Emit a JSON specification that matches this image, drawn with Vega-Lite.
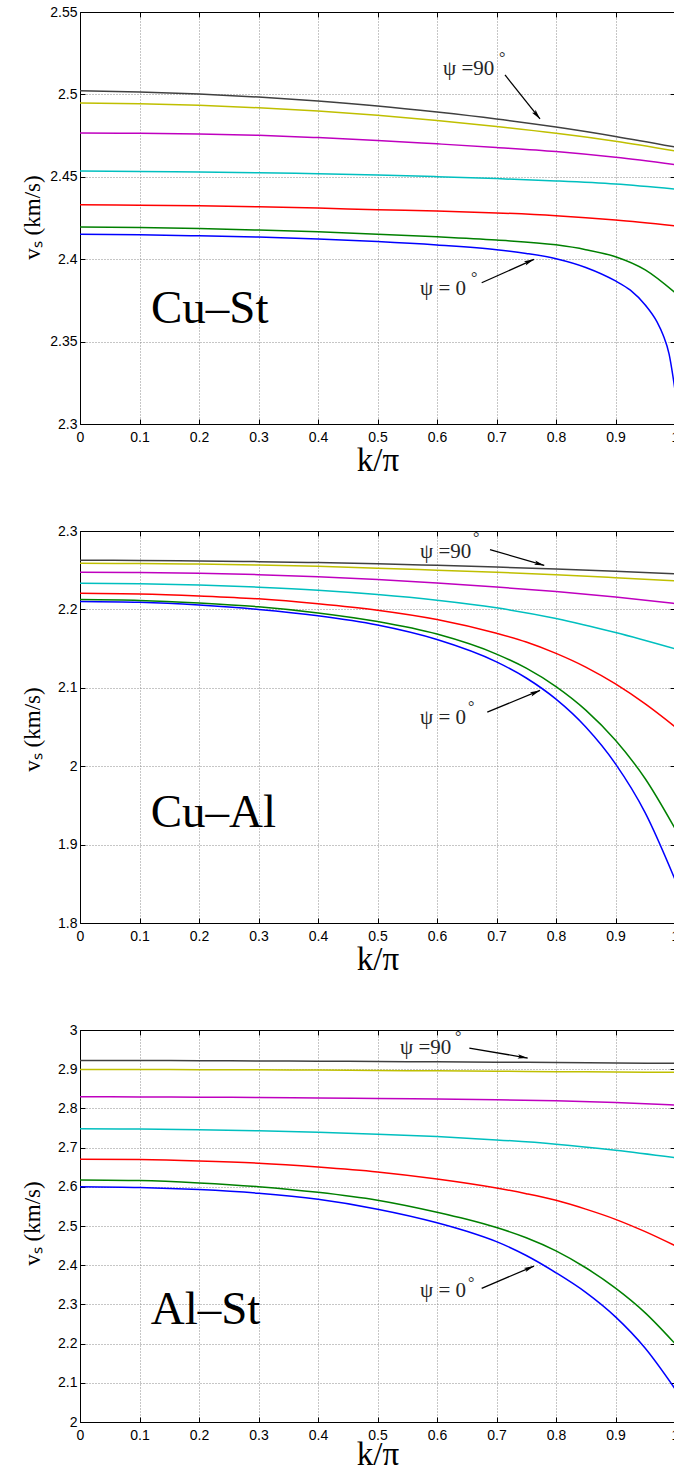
{
"$schema": "https://vega.github.io/schema/vega-lite/v6.json",
"background": "white",
"padding": {"left": 21, "top": 5, "right": -5, "bottom": -4},
"spacing": 107,
"bounds": "flush",
"config": {
  "view": {"stroke": null},
  "axis": {"domainColor": "#000", "domainWidth": 1, "tickColor": "#000", "tickWidth": 1, "tickSize": -5,
    "labelFont": "Liberation Sans", "labelFontSize": 14, "labelColor": "#000", "labelFlush": false, "labelOverlap": false,
    "gridColor": "#8c8c8c", "gridDash": [1, 2], "gridWidth": 1, "gridOpacity": 1,
    "titleFont": "Liberation Serif", "titleFontWeight": "normal", "titleColor": "#000"}
},
"datasets": {
  "c1": [
    {"p":"0","k":0,"v":2.4151},{"p":"0","k":0.1,"v":2.4148},{"p":"0","k":0.2,"v":2.4142},{"p":"0","k":0.3,"v":2.4134},{"p":"0","k":0.4,"v":2.4123},{"p":"0","k":0.5,"v":2.4107},{"p":"0","k":0.6,"v":2.4086},{"p":"0","k":0.7,"v":2.4058},{"p":"0","k":0.75,"v":2.4035},{"p":"0","k":0.8,"v":2.4003},{"p":"0","k":0.85,"v":2.3950},{"p":"0","k":0.9,"v":2.3868},{"p":"0","k":0.925,"v":2.3812},{"p":"0","k":0.95,"v":2.3722},{"p":"0","k":0.97,"v":2.3618},{"p":"0","k":0.98,"v":2.3540},{"p":"0","k":0.99,"v":2.3425},{"p":"0","k":1,"v":2.3206},
    {"p":"15","k":0,"v":2.4195},{"p":"15","k":0.1,"v":2.4192},{"p":"15","k":0.2,"v":2.4186},{"p":"15","k":0.3,"v":2.4177},{"p":"15","k":0.4,"v":2.4166},{"p":"15","k":0.5,"v":2.4152},{"p":"15","k":0.6,"v":2.4136},{"p":"15","k":0.7,"v":2.4116},{"p":"15","k":0.8,"v":2.4087},{"p":"15","k":0.85,"v":2.4058},{"p":"15","k":0.9,"v":2.4015},{"p":"15","k":0.95,"v":2.3935},{"p":"15","k":1,"v":2.3797},
    {"p":"30","k":0,"v":2.4331},{"p":"30","k":0.1,"v":2.4328},{"p":"30","k":0.2,"v":2.4324},{"p":"30","k":0.3,"v":2.4318},{"p":"30","k":0.4,"v":2.4310},{"p":"30","k":0.5,"v":2.4300},{"p":"30","k":0.6,"v":2.4292},{"p":"30","k":0.7,"v":2.4281},{"p":"30","k":0.8,"v":2.4264},{"p":"30","k":0.9,"v":2.4238},{"p":"30","k":1,"v":2.4203},
    {"p":"45","k":0,"v":2.4535},{"p":"45","k":0.1,"v":2.4532},{"p":"45","k":0.2,"v":2.4529},{"p":"45","k":0.3,"v":2.4525},{"p":"45","k":0.4,"v":2.4518},{"p":"45","k":0.5,"v":2.4511},{"p":"45","k":0.6,"v":2.4501},{"p":"45","k":0.7,"v":2.4489},{"p":"45","k":0.8,"v":2.4475},{"p":"45","k":0.9,"v":2.4456},{"p":"45","k":1,"v":2.4426},
    {"p":"60","k":0,"v":2.4766},{"p":"60","k":0.1,"v":2.4764},{"p":"60","k":0.2,"v":2.4760},{"p":"60","k":0.3,"v":2.4752},{"p":"60","k":0.4,"v":2.4738},{"p":"60","k":0.5,"v":2.4721},{"p":"60","k":0.6,"v":2.4700},{"p":"60","k":0.7,"v":2.4678},{"p":"60","k":0.8,"v":2.4653},{"p":"60","k":0.9,"v":2.4618},{"p":"60","k":1,"v":2.4574},
    {"p":"75","k":0,"v":2.4948},{"p":"75","k":0.1,"v":2.4944},{"p":"75","k":0.2,"v":2.4934},{"p":"75","k":0.3,"v":2.4919},{"p":"75","k":0.4,"v":2.4899},{"p":"75","k":0.5,"v":2.4873},{"p":"75","k":0.6,"v":2.4841},{"p":"75","k":0.7,"v":2.4805},{"p":"75","k":0.8,"v":2.4764},{"p":"75","k":0.9,"v":2.4716},{"p":"75","k":1,"v":2.4657},
    {"p":"90","k":0,"v":2.5022},{"p":"90","k":0.1,"v":2.5015},{"p":"90","k":0.2,"v":2.5002},{"p":"90","k":0.3,"v":2.4984},{"p":"90","k":0.4,"v":2.4960},{"p":"90","k":0.5,"v":2.4930},{"p":"90","k":0.6,"v":2.4893},{"p":"90","k":0.7,"v":2.4851},{"p":"90","k":0.8,"v":2.4802},{"p":"90","k":0.9,"v":2.4745},{"p":"90","k":1,"v":2.4681}
  ],
  "c2": [
    {"p":"0","k":0,"v":2.2101},{"p":"0","k":0.1,"v":2.2090},{"p":"0","k":0.2,"v":2.2055},{"p":"0","k":0.3,"v":2.1999},{"p":"0","k":0.4,"v":2.1918},{"p":"0","k":0.5,"v":2.1800},{"p":"0","k":0.6,"v":2.1615},{"p":"0","k":0.7,"v":2.1330},{"p":"0","k":0.75,"v":2.1125},{"p":"0","k":0.8,"v":2.0855},{"p":"0","k":0.85,"v":2.0500},{"p":"0","k":0.9,"v":2.0030},{"p":"0","k":0.95,"v":1.9405},{"p":"0","k":1,"v":1.8555},
    {"p":"15","k":0,"v":2.2126},{"p":"15","k":0.1,"v":2.2115},{"p":"15","k":0.2,"v":2.2082},{"p":"15","k":0.3,"v":2.2033},{"p":"15","k":0.4,"v":2.1955},{"p":"15","k":0.5,"v":2.1845},{"p":"15","k":0.6,"v":2.1685},{"p":"15","k":0.7,"v":2.1430},{"p":"15","k":0.75,"v":2.1250},{"p":"15","k":0.8,"v":2.1015},{"p":"15","k":0.85,"v":2.0715},{"p":"15","k":0.9,"v":2.0330},{"p":"15","k":0.95,"v":1.9840},{"p":"15","k":1,"v":1.9205},
    {"p":"30","k":0,"v":2.2207},{"p":"30","k":0.1,"v":2.2198},{"p":"30","k":0.2,"v":2.2172},{"p":"30","k":0.3,"v":2.2135},{"p":"30","k":0.4,"v":2.2072},{"p":"30","k":0.5,"v":2.1990},{"p":"30","k":0.6,"v":2.1871},{"p":"30","k":0.7,"v":2.1695},{"p":"30","k":0.75,"v":2.1584},{"p":"30","k":0.8,"v":2.1439},{"p":"30","k":0.85,"v":2.1264},{"p":"30","k":0.9,"v":2.1049},{"p":"30","k":0.95,"v":2.0794},{"p":"30","k":1,"v":2.0503},
    {"p":"45","k":0,"v":2.2334},{"p":"45","k":0.1,"v":2.2327},{"p":"45","k":0.2,"v":2.2310},{"p":"45","k":0.3,"v":2.2283},{"p":"45","k":0.4,"v":2.2245},{"p":"45","k":0.5,"v":2.2190},{"p":"45","k":0.6,"v":2.2117},{"p":"45","k":0.7,"v":2.2020},{"p":"45","k":0.8,"v":2.1885},{"p":"45","k":0.9,"v":2.1705},{"p":"45","k":1,"v":2.1497},
    {"p":"60","k":0,"v":2.2475},{"p":"60","k":0.1,"v":2.2470},{"p":"60","k":0.2,"v":2.2460},{"p":"60","k":0.3,"v":2.2443},{"p":"60","k":0.4,"v":2.2416},{"p":"60","k":0.5,"v":2.2381},{"p":"60","k":0.6,"v":2.2336},{"p":"60","k":0.7,"v":2.2285},{"p":"60","k":0.8,"v":2.2228},{"p":"60","k":0.9,"v":2.2158},{"p":"60","k":1,"v":2.2075},
    {"p":"75","k":0,"v":2.2589},{"p":"75","k":0.1,"v":2.2585},{"p":"75","k":0.2,"v":2.2578},{"p":"75","k":0.3,"v":2.2567},{"p":"75","k":0.4,"v":2.2549},{"p":"75","k":0.5,"v":2.2526},{"p":"75","k":0.6,"v":2.2500},{"p":"75","k":0.7,"v":2.2473},{"p":"75","k":0.8,"v":2.2442},{"p":"75","k":0.9,"v":2.2405},{"p":"75","k":1,"v":2.2365},
    {"p":"90","k":0,"v":2.2628},{"p":"90","k":0.1,"v":2.2624},{"p":"90","k":0.2,"v":2.2618},{"p":"90","k":0.3,"v":2.2609},{"p":"90","k":0.4,"v":2.2597},{"p":"90","k":0.5,"v":2.2582},{"p":"90","k":0.6,"v":2.2562},{"p":"90","k":0.7,"v":2.2540},{"p":"90","k":0.8,"v":2.2515},{"p":"90","k":0.9,"v":2.2486},{"p":"90","k":1,"v":2.2454}
  ],
  "c3": [
    {"p":"0","k":0,"v":2.6004},{"p":"0","k":0.1,"v":2.5985},{"p":"0","k":0.2,"v":2.5930},{"p":"0","k":0.3,"v":2.5835},{"p":"0","k":0.4,"v":2.5680},{"p":"0","k":0.5,"v":2.5430},{"p":"0","k":0.6,"v":2.5084},{"p":"0","k":0.65,"v":2.4865},{"p":"0","k":0.7,"v":2.4600},{"p":"0","k":0.75,"v":2.4247},{"p":"0","k":0.8,"v":2.3807},{"p":"0","k":0.85,"v":2.3307},{"p":"0","k":0.9,"v":2.2682},{"p":"0","k":0.95,"v":2.1882},{"p":"0","k":1,"v":2.0847},
    {"p":"15","k":0,"v":2.6175},{"p":"15","k":0.1,"v":2.6160},{"p":"15","k":0.2,"v":2.6100},{"p":"15","k":0.3,"v":2.6004},{"p":"15","k":0.4,"v":2.5860},{"p":"15","k":0.5,"v":2.5657},{"p":"15","k":0.6,"v":2.5350},{"p":"15","k":0.65,"v":2.5170},{"p":"15","k":0.7,"v":2.4960},{"p":"15","k":0.75,"v":2.4700},{"p":"15","k":0.8,"v":2.4365},{"p":"15","k":0.85,"v":2.3935},{"p":"15","k":0.9,"v":2.3415},{"p":"15","k":0.95,"v":2.2785},{"p":"15","k":1,"v":2.2000},
    {"p":"30","k":0,"v":2.6704},{"p":"30","k":0.1,"v":2.6695},{"p":"30","k":0.2,"v":2.6660},{"p":"30","k":0.3,"v":2.6602},{"p":"30","k":0.4,"v":2.6505},{"p":"30","k":0.5,"v":2.6380},{"p":"30","k":0.6,"v":2.6200},{"p":"30","k":0.7,"v":2.5970},{"p":"30","k":0.75,"v":2.5825},{"p":"30","k":0.8,"v":2.5655},{"p":"30","k":0.85,"v":2.5430},{"p":"30","k":0.9,"v":2.5170},{"p":"30","k":0.95,"v":2.4855},{"p":"30","k":1,"v":2.4498},
    {"p":"45","k":0,"v":2.7478},{"p":"45","k":0.1,"v":2.7472},{"p":"45","k":0.2,"v":2.7455},{"p":"45","k":0.3,"v":2.7427},{"p":"45","k":0.4,"v":2.7390},{"p":"45","k":0.5,"v":2.7343},{"p":"45","k":0.6,"v":2.7280},{"p":"45","k":0.7,"v":2.7197},{"p":"45","k":0.8,"v":2.7087},{"p":"45","k":0.9,"v":2.6934},{"p":"45","k":1,"v":2.6745},
    {"p":"60","k":0,"v":2.8296},{"p":"60","k":0.1,"v":2.8293},{"p":"60","k":0.2,"v":2.8287},{"p":"60","k":0.3,"v":2.8279},{"p":"60","k":0.4,"v":2.8268},{"p":"60","k":0.5,"v":2.8254},{"p":"60","k":0.6,"v":2.8237},{"p":"60","k":0.7,"v":2.8218},{"p":"60","k":0.8,"v":2.8192},{"p":"60","k":0.9,"v":2.8148},{"p":"60","k":1,"v":2.8084},
    {"p":"75","k":0,"v":2.8993},{"p":"75","k":0.1,"v":2.8992},{"p":"75","k":0.2,"v":2.8989},{"p":"75","k":0.3,"v":2.8984},{"p":"75","k":0.4,"v":2.8977},{"p":"75","k":0.5,"v":2.8968},{"p":"75","k":0.6,"v":2.8958},{"p":"75","k":0.7,"v":2.8948},{"p":"75","k":0.8,"v":2.8938},{"p":"75","k":0.9,"v":2.8929},{"p":"75","k":1,"v":2.8919},
    {"p":"90","k":0,"v":2.9223},{"p":"90","k":0.1,"v":2.9221},{"p":"90","k":0.2,"v":2.9217},{"p":"90","k":0.3,"v":2.9211},{"p":"90","k":0.4,"v":2.9204},{"p":"90","k":0.5,"v":2.9196},{"p":"90","k":0.6,"v":2.9188},{"p":"90","k":0.7,"v":2.9180},{"p":"90","k":0.8,"v":2.9171},{"p":"90","k":0.9,"v":2.9161},{"p":"90","k":1,"v":2.9149}
  ],
  "notes": [
    {"panel":1,"kind":"psi","x":0.6101,"y":2.5118,"t":"ψ =90"},
    {"panel":1,"kind":"psi","x":0.5714,"y":2.3783,"t":"ψ = 0"},
    {"panel":1,"kind":"deg","x":0.7042,"y":2.5188,"t":"°"},
    {"panel":1,"kind":"deg","x":0.6571,"y":2.3856,"t":"°"},
    {"panel":1,"kind":"label","x":0.1193,"y":2.3615,"t":"Cu–St"},
    {"panel":2,"kind":"psi","x":0.5714,"y":2.2658,"t":"ψ =90"},
    {"panel":2,"kind":"psi","x":0.5714,"y":2.0532,"t":"ψ = 0"},
    {"panel":2,"kind":"deg","x":0.6605,"y":2.2841,"t":"°"},
    {"panel":2,"kind":"deg","x":0.6521,"y":2.0691,"t":"°"},
    {"panel":2,"kind":"label","x":0.1188,"y":1.9227,"t":"Cu–Al"},
    {"panel":3,"kind":"psi","x":0.5378,"y":2.9387,"t":"ψ =90"},
    {"panel":3,"kind":"psi","x":0.5714,"y":2.3186,"t":"ψ = 0"},
    {"panel":3,"kind":"deg","x":0.6303,"y":2.9701,"t":"°"},
    {"panel":3,"kind":"deg","x":0.6521,"y":2.3429,"t":"°"},
    {"panel":3,"kind":"label","x":0.1188,"y":2.2504,"t":"Al–St"}
  ],
  "arrows": [
    {"panel":1,"psi":"90","x":0.7143,"y":2.5118,"x2":0.7731,"y2":2.4851,"hx":0.7679,"hy":2.4874},
    {"panel":1,"psi":"0","x":0.6751,"y":2.3857,"x2":0.7630,"y2":2.3999,"hx":0.7553,"hy":2.3987},
    {"panel":2,"psi":"90","x":0.6891,"y":2.2764,"x2":0.7803,"y2":2.2560,"hx":0.7723,"hy":2.2578},
    {"panel":2,"psi":"0","x":0.6845,"y":2.0689,"x2":0.7731,"y2":2.0966,"hx":0.7654,"hy":2.0941},
    {"panel":3,"psi":"90","x":0.6543,"y":2.9540,"x2":0.7524,"y2":2.9285,"hx":0.7442,"hy":2.9305},
    {"panel":3,"psi":"0","x":0.6751,"y":2.3408,"x2":0.7630,"y2":2.3978,"hx":0.7553,"hy":2.3927}
  ]
},
"vconcat": [
  {
    "width": 595, "height": 412,
    "resolve": {"axis": {"x": "independent", "y": "independent"}},
    "layer": [
      {"data": {"name": "c1"},
       "mark": {"type": "line", "strokeWidth": 1.5, "interpolate": "monotone"},
       "encoding": {
         "x": {"field": "k", "type": "quantitative", "scale": {"domain": [0, 1], "nice": false, "zero": false},
               "axis": {"orient": "bottom", "values": [0,0.1,0.2,0.3,0.4,0.5,0.6,0.7,0.8,0.9,1], "format": "~g", "grid": true, "labelPadding": 11, "title": "k/π", "titleFontSize": 33, "titleBaseline": "alphabetic", "titleX": 297.5, "titleY": 46}},
         "y": {"field": "v", "type": "quantitative", "scale": {"domain": [2.3, 2.55], "nice": false, "zero": false},
               "axis": {"orient": "left", "values": [2.3,2.35,2.4,2.45,2.5,2.55], "format": "~g", "grid": true, "labelPadding": 8, "title": "vₛ   (km/s)", "titleFontSize": 23, "titleBaseline": "alphabetic", "titleAngle": 270, "titleX": -41, "titleY": 205}},
         "color": {"field": "p", "type": "nominal", "scale": {"domain": ["0","15","30","45","60","75","90"], "range": ["#0000FF","#008000","#FF0000","#00BFBF","#BF00BF","#BFBF00","#404040"]}, "legend": null}
       }},
      {"data": {"name": "arrows"},
       "transform": [{"filter": "datum.panel == 1"}],
       "mark": {"type": "rule", "color": "#000", "strokeWidth": 1.3},
       "encoding": {
         "x": {"field": "x", "type": "quantitative", "scale": {"domain": [0, 1], "nice": false, "zero": false}, "axis": null},
         "y": {"field": "y", "type": "quantitative", "scale": {"domain": [2.3, 2.55], "nice": false, "zero": false}, "axis": null},
         "x2": {"field": "x2"}, "y2": {"field": "y2"}
       }},
      {"data": {"name": "arrows"},
       "transform": [{"filter": "datum.panel == 1 && datum.psi == '90'"}],
       "mark": {"type": "point", "shape": "M0,-1L0.45,1L0,0.6L-0.45,1Z", "filled": true, "color": "#000", "size": 100, "angle": 141.5, "opacity": 1},
       "encoding": {
         "x": {"field": "hx", "type": "quantitative", "scale": {"domain": [0, 1], "nice": false, "zero": false}, "axis": null},
         "y": {"field": "hy", "type": "quantitative", "scale": {"domain": [2.3, 2.55], "nice": false, "zero": false}, "axis": null}
       }},
      {"data": {"name": "arrows"},
       "transform": [{"filter": "datum.panel == 1 && datum.psi == '0'"}],
       "mark": {"type": "point", "shape": "M0,-1L0.45,1L0,0.6L-0.45,1Z", "filled": true, "color": "#000", "size": 100, "angle": 65.9, "opacity": 1},
       "encoding": {
         "x": {"field": "hx", "type": "quantitative", "scale": {"domain": [0, 1], "nice": false, "zero": false}, "axis": null},
         "y": {"field": "hy", "type": "quantitative", "scale": {"domain": [2.3, 2.55], "nice": false, "zero": false}, "axis": null}
       }},
      {"data": {"name": "notes"},
       "transform": [{"filter": "datum.panel == 1 && datum.kind == 'psi'"}],
       "mark": {"type": "text", "font": "Liberation Serif", "fontSize": 21, "align": "left", "baseline": "alphabetic", "color": "#262626"},
       "encoding": {
         "x": {"field": "x", "type": "quantitative", "scale": {"domain": [0, 1], "nice": false, "zero": false}, "axis": null},
         "y": {"field": "y", "type": "quantitative", "scale": {"domain": [2.3, 2.55], "nice": false, "zero": false}, "axis": null},
         "text": {"field": "t"}
       }},
      {"data": {"name": "notes"},
       "transform": [{"filter": "datum.panel == 1 && datum.kind == 'deg'"}],
       "mark": {"type": "text", "font": "Liberation Serif", "fontSize": 16, "align": "left", "baseline": "alphabetic", "color": "#262626"},
       "encoding": {
         "x": {"field": "x", "type": "quantitative", "scale": {"domain": [0, 1], "nice": false, "zero": false}, "axis": null},
         "y": {"field": "y", "type": "quantitative", "scale": {"domain": [2.3, 2.55], "nice": false, "zero": false}, "axis": null},
         "text": {"field": "t"}
       }},
      {"data": {"name": "notes"},
       "transform": [{"filter": "datum.panel == 1 && datum.kind == 'label'"}],
       "mark": {"type": "text", "font": "Liberation Serif", "fontSize": 47, "align": "left", "baseline": "alphabetic", "color": "#000"},
       "encoding": {
         "x": {"field": "x", "type": "quantitative", "scale": {"domain": [0, 1], "nice": false, "zero": false},
               "axis": {"orient": "top", "values": [0,0.1,0.2,0.3,0.4,0.5,0.6,0.7,0.8,0.9,1], "grid": false, "labels": false, "title": null}},
         "y": {"field": "y", "type": "quantitative", "scale": {"domain": [2.3, 2.55], "nice": false, "zero": false},
               "axis": {"orient": "right", "values": [2.3,2.35,2.4,2.45,2.5,2.55], "grid": false, "labels": false, "title": null}},
         "text": {"field": "t"}
       }}
    ]
  },
  {
    "width": 595, "height": 392,
    "resolve": {"axis": {"x": "independent", "y": "independent"}},
    "layer": [
      {"data": {"name": "c2"},
       "mark": {"type": "line", "strokeWidth": 1.5, "interpolate": "monotone"},
       "encoding": {
         "x": {"field": "k", "type": "quantitative", "scale": {"domain": [0, 1], "nice": false, "zero": false},
               "axis": {"orient": "bottom", "values": [0,0.1,0.2,0.3,0.4,0.5,0.6,0.7,0.8,0.9,1], "format": "~g", "grid": true, "labelPadding": 11, "title": "k/π", "titleFontSize": 33, "titleBaseline": "alphabetic", "titleX": 297.5, "titleY": 46}},
         "y": {"field": "v", "type": "quantitative", "scale": {"domain": [1.8, 2.3], "nice": false, "zero": false},
               "axis": {"orient": "left", "values": [1.8,1.9,2,2.1,2.2,2.3], "format": "~g", "grid": true, "labelPadding": 8, "title": "vₛ   (km/s)", "titleFontSize": 23, "titleBaseline": "alphabetic", "titleAngle": 270, "titleX": -41, "titleY": 198}},
         "color": {"field": "p", "type": "nominal", "scale": {"domain": ["0","15","30","45","60","75","90"], "range": ["#0000FF","#008000","#FF0000","#00BFBF","#BF00BF","#BFBF00","#404040"]}, "legend": null}
       }},
      {"data": {"name": "arrows"},
       "transform": [{"filter": "datum.panel == 2"}],
       "mark": {"type": "rule", "color": "#000", "strokeWidth": 1.3},
       "encoding": {
         "x": {"field": "x", "type": "quantitative", "scale": {"domain": [0, 1], "nice": false, "zero": false}, "axis": null},
         "y": {"field": "y", "type": "quantitative", "scale": {"domain": [1.8, 2.3], "nice": false, "zero": false}, "axis": null},
         "x2": {"field": "x2"}, "y2": {"field": "y2"}
       }},
      {"data": {"name": "arrows"},
       "transform": [{"filter": "datum.panel == 2 && datum.psi == '90'"}],
       "mark": {"type": "point", "shape": "M0,-1L0.45,1L0,0.6L-0.45,1Z", "filled": true, "color": "#000", "size": 100, "angle": 106.4, "opacity": 1},
       "encoding": {
         "x": {"field": "hx", "type": "quantitative", "scale": {"domain": [0, 1], "nice": false, "zero": false}, "axis": null},
         "y": {"field": "hy", "type": "quantitative", "scale": {"domain": [1.8, 2.3], "nice": false, "zero": false}, "axis": null}
       }},
      {"data": {"name": "arrows"},
       "transform": [{"filter": "datum.panel == 2 && datum.psi == '0'"}],
       "mark": {"type": "point", "shape": "M0,-1L0.45,1L0,0.6L-0.45,1Z", "filled": true, "color": "#000", "size": 100, "angle": 67.6, "opacity": 1},
       "encoding": {
         "x": {"field": "hx", "type": "quantitative", "scale": {"domain": [0, 1], "nice": false, "zero": false}, "axis": null},
         "y": {"field": "hy", "type": "quantitative", "scale": {"domain": [1.8, 2.3], "nice": false, "zero": false}, "axis": null}
       }},
      {"data": {"name": "notes"},
       "transform": [{"filter": "datum.panel == 2 && datum.kind == 'psi'"}],
       "mark": {"type": "text", "font": "Liberation Serif", "fontSize": 21, "align": "left", "baseline": "alphabetic", "color": "#262626"},
       "encoding": {
         "x": {"field": "x", "type": "quantitative", "scale": {"domain": [0, 1], "nice": false, "zero": false}, "axis": null},
         "y": {"field": "y", "type": "quantitative", "scale": {"domain": [1.8, 2.3], "nice": false, "zero": false}, "axis": null},
         "text": {"field": "t"}
       }},
      {"data": {"name": "notes"},
       "transform": [{"filter": "datum.panel == 2 && datum.kind == 'deg'"}],
       "mark": {"type": "text", "font": "Liberation Serif", "fontSize": 16, "align": "left", "baseline": "alphabetic", "color": "#262626"},
       "encoding": {
         "x": {"field": "x", "type": "quantitative", "scale": {"domain": [0, 1], "nice": false, "zero": false}, "axis": null},
         "y": {"field": "y", "type": "quantitative", "scale": {"domain": [1.8, 2.3], "nice": false, "zero": false}, "axis": null},
         "text": {"field": "t"}
       }},
      {"data": {"name": "notes"},
       "transform": [{"filter": "datum.panel == 2 && datum.kind == 'label'"}],
       "mark": {"type": "text", "font": "Liberation Serif", "fontSize": 47, "align": "left", "baseline": "alphabetic", "color": "#000"},
       "encoding": {
         "x": {"field": "x", "type": "quantitative", "scale": {"domain": [0, 1], "nice": false, "zero": false},
               "axis": {"orient": "top", "values": [0,0.1,0.2,0.3,0.4,0.5,0.6,0.7,0.8,0.9,1], "grid": false, "labels": false, "title": null}},
         "y": {"field": "y", "type": "quantitative", "scale": {"domain": [1.8, 2.3], "nice": false, "zero": false},
               "axis": {"orient": "right", "values": [1.8,1.9,2,2.1,2.2,2.3], "grid": false, "labels": false, "title": null}},
         "text": {"field": "t"}
       }}
    ]
  },
  {
    "width": 595, "height": 392,
    "resolve": {"axis": {"x": "independent", "y": "independent"}},
    "layer": [
      {"data": {"name": "c3"},
       "mark": {"type": "line", "strokeWidth": 1.5, "interpolate": "monotone"},
       "encoding": {
         "x": {"field": "k", "type": "quantitative", "scale": {"domain": [0, 1], "nice": false, "zero": false},
               "axis": {"orient": "bottom", "values": [0,0.1,0.2,0.3,0.4,0.5,0.6,0.7,0.8,0.9,1], "format": "~g", "grid": true, "labelPadding": 11, "title": "k/π", "titleFontSize": 33, "titleBaseline": "alphabetic", "titleX": 297.5, "titleY": 42}},
         "y": {"field": "v", "type": "quantitative", "scale": {"domain": [2, 3], "nice": false, "zero": false},
               "axis": {"orient": "left", "values": [2,2.1,2.2,2.3,2.4,2.5,2.6,2.7,2.8,2.9,3], "format": "~g", "grid": true, "labelPadding": 8, "title": "vₛ   (km/s)", "titleFontSize": 23, "titleBaseline": "alphabetic", "titleAngle": 270, "titleX": -41, "titleY": 193}},
         "color": {"field": "p", "type": "nominal", "scale": {"domain": ["0","15","30","45","60","75","90"], "range": ["#0000FF","#008000","#FF0000","#00BFBF","#BF00BF","#BFBF00","#404040"]}, "legend": null}
       }},
      {"data": {"name": "arrows"},
       "transform": [{"filter": "datum.panel == 3"}],
       "mark": {"type": "rule", "color": "#000", "strokeWidth": 1.3},
       "encoding": {
         "x": {"field": "x", "type": "quantitative", "scale": {"domain": [0, 1], "nice": false, "zero": false}, "axis": null},
         "y": {"field": "y", "type": "quantitative", "scale": {"domain": [2, 3], "nice": false, "zero": false}, "axis": null},
         "x2": {"field": "x2"}, "y2": {"field": "y2"}
       }},
      {"data": {"name": "arrows"},
       "transform": [{"filter": "datum.panel == 3 && datum.psi == '90'"}],
       "mark": {"type": "point", "shape": "M0,-1L0.45,1L0,0.6L-0.45,1Z", "filled": true, "color": "#000", "size": 100, "angle": 99.7, "opacity": 1},
       "encoding": {
         "x": {"field": "hx", "type": "quantitative", "scale": {"domain": [0, 1], "nice": false, "zero": false}, "axis": null},
         "y": {"field": "hy", "type": "quantitative", "scale": {"domain": [2, 3], "nice": false, "zero": false}, "axis": null}
       }},
      {"data": {"name": "arrows"},
       "transform": [{"filter": "datum.panel == 3 && datum.psi == '0'"}],
       "mark": {"type": "point", "shape": "M0,-1L0.45,1L0,0.6L-0.45,1Z", "filled": true, "color": "#000", "size": 100, "angle": 66.9, "opacity": 1},
       "encoding": {
         "x": {"field": "hx", "type": "quantitative", "scale": {"domain": [0, 1], "nice": false, "zero": false}, "axis": null},
         "y": {"field": "hy", "type": "quantitative", "scale": {"domain": [2, 3], "nice": false, "zero": false}, "axis": null}
       }},
      {"data": {"name": "notes"},
       "transform": [{"filter": "datum.panel == 3 && datum.kind == 'psi'"}],
       "mark": {"type": "text", "font": "Liberation Serif", "fontSize": 21, "align": "left", "baseline": "alphabetic", "color": "#262626"},
       "encoding": {
         "x": {"field": "x", "type": "quantitative", "scale": {"domain": [0, 1], "nice": false, "zero": false}, "axis": null},
         "y": {"field": "y", "type": "quantitative", "scale": {"domain": [2, 3], "nice": false, "zero": false}, "axis": null},
         "text": {"field": "t"}
       }},
      {"data": {"name": "notes"},
       "transform": [{"filter": "datum.panel == 3 && datum.kind == 'deg'"}],
       "mark": {"type": "text", "font": "Liberation Serif", "fontSize": 16, "align": "left", "baseline": "alphabetic", "color": "#262626"},
       "encoding": {
         "x": {"field": "x", "type": "quantitative", "scale": {"domain": [0, 1], "nice": false, "zero": false}, "axis": null},
         "y": {"field": "y", "type": "quantitative", "scale": {"domain": [2, 3], "nice": false, "zero": false}, "axis": null},
         "text": {"field": "t"}
       }},
      {"data": {"name": "notes"},
       "transform": [{"filter": "datum.panel == 3 && datum.kind == 'label'"}],
       "mark": {"type": "text", "font": "Liberation Serif", "fontSize": 47, "align": "left", "baseline": "alphabetic", "color": "#000"},
       "encoding": {
         "x": {"field": "x", "type": "quantitative", "scale": {"domain": [0, 1], "nice": false, "zero": false},
               "axis": {"orient": "top", "values": [0,0.1,0.2,0.3,0.4,0.5,0.6,0.7,0.8,0.9,1], "grid": false, "labels": false, "title": null}},
         "y": {"field": "y", "type": "quantitative", "scale": {"domain": [2, 3], "nice": false, "zero": false},
               "axis": {"orient": "right", "values": [2,2.1,2.2,2.3,2.4,2.5,2.6,2.7,2.8,2.9,3], "grid": false, "labels": false, "title": null}},
         "text": {"field": "t"}
       }}
    ]
  }
]
}
